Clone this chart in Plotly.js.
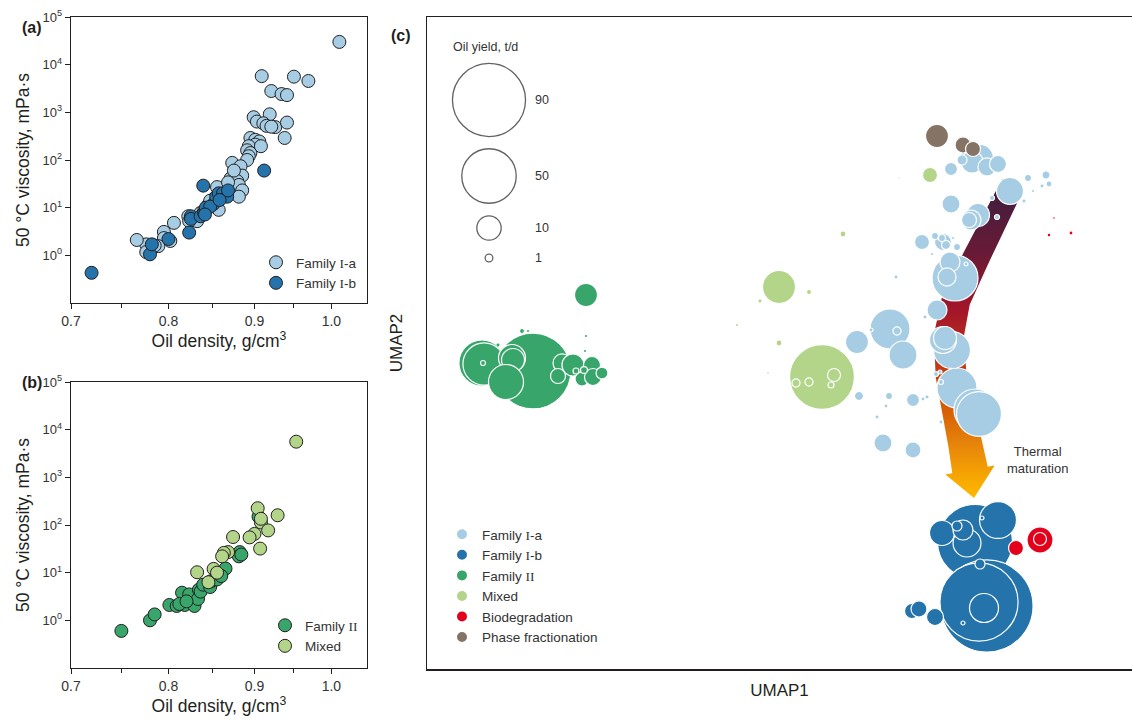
<!DOCTYPE html>
<html><head><meta charset="utf-8">
<script src="https://cdn.plot.ly/plotly-3.0.1.min.js"></script>
<style>html,body{margin:0;padding:0;background:#fff}#chart{width:1132px;height:725px}</style>
</head><body><div id="chart"></div>
<script>
// ---------- Panel (a): oil density vs 50 °C viscosity ----------
const densIa = [
1.011,0.909,0.950,0.969,0.921,0.934,0.941,0.899,0.903,0.919,
0.911,0.915,0.926,0.921,0.941,0.938,0.895,0.901,0.906,0.901,
0.893,0.891,0.895,0.908,0.893,0.891,0.873,0.883,0.885,0.871,
0.879,0.881,0.885,0.881,0.855,0.859,0.851,0.855,0.857,0.845,
0.836,0.830,0.832,0.822,0.823,0.806,0.795,0.795,0.789,0.785,
0.776,0.766,0.776,0.802,0.875,0.868,0.847,0.840];
const viscIa = [
30000,5750,5600,4550,2800,2420,2300,790,640,910,
590,520,490,500,610,290,290,265,245,210,
195,160,140,195,120,100,87,74,47,41,
36,30,23,17,27,19,15,10,9,11.5,
7.8,5.6,5.2,6.6,5.2,4.8,3.1,2.3,1.56,1.6,
1.7,2.1,1.17,2.0,60,34,14,8.5];
const densIb = [0.720,0.780,0.782,0.800,0.823,0.839,0.825,0.825,0.836,0.840,
0.842,0.851,0.854,0.857,0.862,0.867,0.868,0.912,0.847,0.858,0.841];
const viscIb = [0.43,1.05,1.7,2.2,3.0,29,6.6,5.8,6.6,7.8,
10,12,17,20,20,17,23,60,10.5,14.5,7.2];

// ---------- Panel (b) ----------
const densII = [0.750,0.780,0.785,0.801,0.809,0.815,0.818,0.823,0.829,0.833,
0.834,0.836,0.839,0.847,0.848,0.855,0.856,0.865,0.882,0.881,
0.884,0.905,0.812,0.820,0.860];
const viscII = [0.6,1.0,1.33,2.1,2.0,3.8,2.1,3.5,2.0,2.8,
4.4,4.0,5.6,5.0,6.6,7.2,10,12.2,27,22,
24,150,2.2,2.5,8.5];
const densMx = [0.953,0.904,0.929,0.908,0.917,0.900,0.894,0.874,0.907,0.868,
0.863,0.861,0.832,0.851,0.855,0.845,0.908];
const viscMx = [5600,225,160,113,77,65,55,56,32,27,
26,22,10.2,12,10,6.3,135];

const densTicks = [0.7,0.8,0.9,1.0];
const densTickText = ['0.7','0.8','0.9','1.0'];
const densMinor = [0.75,0.85,0.95];
const viscTicks = [1,10,100,1000,10000,100000];
const viscTickText = ['10<sup>0</sup>','10<sup>1</sup>','10<sup>2</sup>','10<sup>3</sup>','10<sup>4</sup>','10<sup>5</sup>'];

// ---------- Panel (c): UMAP bubbles (UMAP1, UMAP2, oil yield t/d) ----------
const u1Ia = [
10.56,10.60,10.96,11.04,9.26,10.50,10.32,10.36,9.52,11.06,
10.84,10.90,11.20,11.42,10.48,10.70,11.10,11.66,11.02,10.88,
10.84,8.60,10.46,10.40,10.20,10.48,9.12,9.72,9.90,10.32,
10.38,10.16,10.30,10.60,10.10,10.52,10.78,9.96,12.02,12.38,
12.44,12.30,12.12,11.30,11.94,11.40,10.28,10.62,10.18,10.26,
10.54,10.28,8.88,9.14,9.40,8.64,9.24,9.72,9.92,10.00,
9.18,9.00,9.38];
const u2Ia = [
7.82,5.62,5.18,5.10,6.80,6.38,6.58,6.62,6.28,10.22,
10.18,10.14,10.04,10.10,10.00,10.18,10.00,9.56,9.08,8.98,
8.98,6.54,8.14,7.84,7.18,9.30,4.52,4.38,8.54,8.54,
8.48,8.66,8.62,8.44,8.30,8.62,8.10,7.04,9.82,9.88,
9.70,9.66,9.56,9.42,9.36,9.04,5.74,5.72,5.90,5.94,
6.04,4.94,6.78,6.76,6.76,5.46,5.46,5.38,5.40,5.44,
5.26,5.04,7.84];
const yIa = [
35.7,27,29.8,34,27,23,12.3,8.9,13.2,12.3,
6.75,8.2,5.5,4.9,2.85,1.7,0.15,12.3,8.9,6.75,
3.8,8.9,6.75,5.5,6.75,5.5,5.5,4.3,3.8,4.9,
1.4,0.83,0.83,0.83,0.07,0.07,0.27,0.15,0.83,1.1,
0.6,0.15,0.07,0.42,0.15,0.42,0.42,0.15,0.42,0.27,
0.15,0.27,0.27,0.15,1.1,1.4,0.83,2.85,0.27,0.15,
0.27,0.15,0.15];

const u1Ib = [10.96,11.20,11.04,11.14,11.42,10.30,10.80,10.72,10.60,11.06,
10.30,11.10,10.58,11.22,11.24,10.72,9.70,9.84,10.16];
const u2Ib = [2.54,1.26,1.34,1.22,2.98,2.72,2.52,2.78,2.86,2.10,
2.34,3.02,1.60,1.84,1.54,0.92,1.16,1.20,1.04];
const yIb  = [95,143,103,14.2,23,10.5,13.2,6.75,1.7,1.7,
0.15,0.27,0.15,0.15,0.15,0.27,3.8,4.3,4.9];

const u1II = [2.12,1.10,1.14,1.12,1.70,1.72,1.58,2.70,2.62,2.92,3.10,3.30,3.32,3.50,2.98,3.14,3.18,1.90,2.02,1.42,3.18,3.16];
const u2II = [5.96,6.12,6.10,6.12,6.22,6.18,5.74,6.12,5.86,6.08,5.80,6.08,5.84,5.92,5.96,5.98,7.48,6.76,6.76,6.48,6.66,6.36];
const yII  = [97,36,30,0.42,12.3,8.9,20.7,5.5,3.8,8.2,3.3,4.9,4.9,2.4,0.6,0.8,8.9,0.42,0.07,0.15,0.07,0.07];

const u1Mx = [7.90,7.38,7.64,8.14,8.08,7.04,10.06,7.64,6.66,8.32,7.04,6.20,6.82,9.44];
const u2Mx = [5.84,5.72,5.74,5.88,5.68,7.64,9.88,7.54,7.36,8.70,6.52,6.88,5.92,9.82];
const yMx  = [71,1.1,1.1,2.85,0.6,18.4,3.8,0.42,0.15,0.6,0.6,0.07,0.04,0.02];

const u1Bio = [12.26,12.26,11.78,12.88,12.44,12.54];
const u2Bio = [2.58,2.60,2.42,8.72,8.68,9.02];
const yBio  = [11.4,2.85,3.8,0.27,0.1,0.04];

const u1Ph = [10.20,10.72,10.92];
const u2Ph = [10.66,10.48,10.40];
const yPh  = [8.9,4.3,3.8];

const sizeLegendVals = [90,50,10,1];

// arrow centreline (UMAP units) for "Thermal maturation"
const arrowCx = [11.72,11.46,10.98,10.58,10.44,10.48,10.62,10.76,10.86];
const arrowCy = [9.70,9.18,8.22,7.38,6.68,5.88,5.18,4.52,3.98];
const arrowHalfW = [0.24,0.25,0.27,0.29,0.30,0.31,0.32,0.34,0.36];
const arrowTip = [10.94,3.42];
const arrowHeadHalf = 0.5;

// ---------- build ----------
const W = 1132, H = 725;
const fx = p => p / W, fy = p => 1 - p / H;
const INK = '#231f20';
const C = {Ia:'#a6cde3', Ib:'#2473ab', II:'#38a66a', Mx:'#b2d58a', Bio:'#e3001b', Ph:'#857466'};
const SIZEREF = 2 / 59.3;
const serifI = s => s.replace(/I/g, '<span style="font-family:Liberation Serif">I</span>');

function scat(x, y, name, color, xa, ya, leg) {
  return {type:'scatter', mode:'markers', x, y, name: serifI(name), xaxis:xa, yaxis:ya, legend:leg,
    marker:{size:13, color, line:{color:INK, width:1}}, hoverinfo:'skip'};
}
function bubble(x, y, yv, name, color, rank) {
  return {type:'scatter', mode:'markers', x, y, name: serifI(name), xaxis:'x3', yaxis:'y3', legend:'legend3',
    legendrank: rank,
    marker:{size:yv, sizemode:'area', sizeref:SIZEREF, color, opacity:1,
      line:{color:'#ffffff', width: yv.map(v => v >= 0.25 ? 1.2 : 0)}},
    hoverinfo:'skip'};
}

// arrow polygon
const L = [], R = [];
const n = arrowCx.length;
let lastN = [0,0];
for (let i = 0; i < n; i++) {
  const a = Math.max(0, i-1), b = Math.min(n-1, i+1);
  let tx = arrowCx[b]-arrowCx[a], ty = arrowCy[b]-arrowCy[a];
  const len = Math.hypot(tx, ty); tx /= len; ty /= len;
  const nx = -ty, ny = tx; lastN = [nx, ny];
  L.push([arrowCx[i] + nx*arrowHalfW[i], arrowCy[i] + ny*arrowHalfW[i]]);
  R.push([arrowCx[i] - nx*arrowHalfW[i], arrowCy[i] - ny*arrowHalfW[i]]);
}
const last = [arrowCx[n-1], arrowCy[n-1]];
const poly = [...L,
  [last[0] + lastN[0]*arrowHeadHalf, last[1] + lastN[1]*arrowHeadHalf],
  arrowTip,
  [last[0] - lastN[0]*arrowHeadHalf, last[1] - lastN[1]*arrowHeadHalf],
  ...R.reverse()];
poly.push(poly[0]);

const arrowTrace = {type:'scatter', mode:'lines', xaxis:'x3', yaxis:'y3', showlegend:false, hoverinfo:'skip',
  x: poly.map(p=>p[0]), y: poly.map(p=>p[1]), fill:'toself', line:{width:0, color:'rgba(0,0,0,0)'},
  fillcolor:'#a3152a',
  fillgradient:{type:'vertical', colorscale:[[0,'#ffb800'],[0.06,'#f7a800'],[0.16,'#e8870a'],[0.29,'#d35a06'],
    [0.43,'#bf3616'],[0.59,'#a3152a'],[0.76,'#6a1a36'],[1,'#3a1e40']]}};

// size legend placement (pixel -> UMAP units)
const ux = p => (p - 427) / 50, uy = p => (669 - p) / 50;
const sizeLegY = [100,176,228,258].map(uy);
const sizeLegendTrace = {type:'scatter', mode:'markers', xaxis:'x3', yaxis:'y3', showlegend:false, hoverinfo:'skip',
  x: sizeLegendVals.map(()=>ux(489)), y: sizeLegY,
  marker:{size:sizeLegendVals, sizemode:'area', sizeref:SIZEREF, color:'#ffffff', line:{color:INK, width:1.3}}};

const data = [
  scat(densIa, viscIa, 'Family I-a', C.Ia, 'x', 'y', 'legend'),
  scat(densIb, viscIb, 'Family I-b', C.Ib, 'x', 'y', 'legend'),
  scat(densII, viscII, 'Family II', C.II, 'x2', 'y2', 'legend2'),
  scat(densMx, viscMx, 'Mixed', C.Mx, 'x2', 'y2', 'legend2'),
  arrowTrace,
  bubble(u1II, u2II, yII, 'Family II', C.II, 3),
  bubble(u1Mx, u2Mx, yMx, 'Mixed', C.Mx, 4),
  bubble(u1Ia, u2Ia, yIa, 'Family I-a', C.Ia, 1),
  bubble(u1Ib, u2Ib, yIb, 'Family I-b', C.Ib, 2),
  bubble(u1Bio, u2Bio, yBio, 'Biodegradation', C.Bio, 5),
  bubble(u1Ph, u2Ph, yPh, 'Phase fractionation', C.Ph, 6),
  sizeLegendTrace
];

const FONT = 'Arial, Liberation Sans, sans-serif';
function densAxis(anchor) {
  return {domain:[fx(71), fx(367)], anchor, type:'log', range:[Math.log10(0.7), Math.log10(1.05)],
    tickmode:'array', tickvals:densTicks, ticktext:densTickText, ticks:'outside', ticklen:5, tickwidth:1, tickcolor:INK,
    minor:{tickmode:'array', tickvals:densMinor, ticks:'outside', ticklen:4, tickwidth:1, tickcolor:INK},
    showline:true, mirror:true, linecolor:INK, linewidth:1.3, showgrid:false, zeroline:false,
    tickfont:{size:14, color:'#333'}, automargin:false,
    title:{text:'Oil density, g/cm<sup>3</sup>', font:{size:17.5, color:INK}, standoff:6}};
}
function viscAxis(dom, anchor) {
  return {domain:dom, anchor, type:'log', range:[-1,5], tickmode:'array', tickvals:viscTicks, ticktext:viscTickText,
    ticks:'outside', ticklen:5, tickwidth:1, tickcolor:INK, showline:true, mirror:true, linecolor:INK, linewidth:1.3,
    showgrid:false, zeroline:false, tickfont:{size:13, color:'#333'}, automargin:false,
    title:{text:'50 °C viscosity, mPa·s', font:{size:17.5, color:INK}, standoff:8}};
}

const layout = {
  width:W, height:H, margin:{l:0,r:0,t:0,b:0}, paper_bgcolor:'#fff', plot_bgcolor:'rgba(0,0,0,0)',
  font:{family:FONT, color:INK}, hovermode:false,
  xaxis: densAxis('y'),
  yaxis: viscAxis([fy(303), fy(17)], 'x'),
  xaxis2: densAxis('y2'),
  yaxis2: viscAxis([fy(668), fy(382)], 'x2'),
  xaxis3: {domain:[fx(427), 1], anchor:'y3', range:[0, 14.1], showticklabels:false, ticks:'', showgrid:false, zeroline:false,
    showline:true, mirror:true, linecolor:INK, linewidth:1.5, automargin:false,
    title:{text:'UMAP1', font:{size:17, color:INK}, standoff:14}},
  yaxis3: {domain:[fy(669), fy(17)], anchor:'x3', range:[0, 13.04], showticklabels:false, ticks:'', showgrid:false, zeroline:false,
    showline:true, mirror:false, linecolor:INK, linewidth:1.5, automargin:false,
    title:{text:'UMAP2', font:{size:17, color:INK}, standoff:18}},
  legend: {x:fx(256), y:fy(247), xanchor:'left', yanchor:'top', bgcolor:'rgba(0,0,0,0)', borderwidth:0,
    font:{size:13.5, color:'#333'}, itemsizing:'trace'},
  legend2:{x:fx(265), y:fy(610), xanchor:'left', yanchor:'top', bgcolor:'rgba(0,0,0,0)', borderwidth:0,
    font:{size:13.5, color:'#333'}, itemsizing:'trace'},
  legend3:{x:fx(442), y:fy(519), xanchor:'left', yanchor:'top', bgcolor:'rgba(0,0,0,0)', borderwidth:0,
    font:{size:13.5, color:'#333'}, itemsizing:'constant', traceorder:'normal'},
  annotations: [
    {xref:'paper', yref:'paper', x:fx(20), y:fy(17), text:'<b>(a)</b>', showarrow:false, font:{size:16, color:INK}},
    {xref:'paper', yref:'paper', x:fx(20), y:fy(382), text:'<b>(b)</b>', showarrow:false, font:{size:16, color:INK}},
    {xref:'paper', yref:'paper', x:fx(401), y:fy(25), text:'<b>(c)</b>', showarrow:false, font:{size:16, color:INK}},
    {xref:'x3', yref:'y3', x:ux(485), y:uy(47), text:'Oil yield, t/d', showarrow:false, font:{size:12.5, color:'#333'}},
    ...sizeLegendVals.map((v,i) => ({xref:'x3', yref:'y3', x:ux(533), y:sizeLegY[i], xanchor:'left', text:String(v),
      showarrow:false, font:{size:12.5, color:'#333'}})),
    {xref:'x3', yref:'y3', x:ux(1037), y:uy(460), text:'Thermal<br>maturation', showarrow:false, align:'center',
      font:{size:13, color:'#333'}}
  ]
};

Plotly.newPlot('chart', data, layout, {displayModeBar:false, staticPlot:true});
</script></body></html>
